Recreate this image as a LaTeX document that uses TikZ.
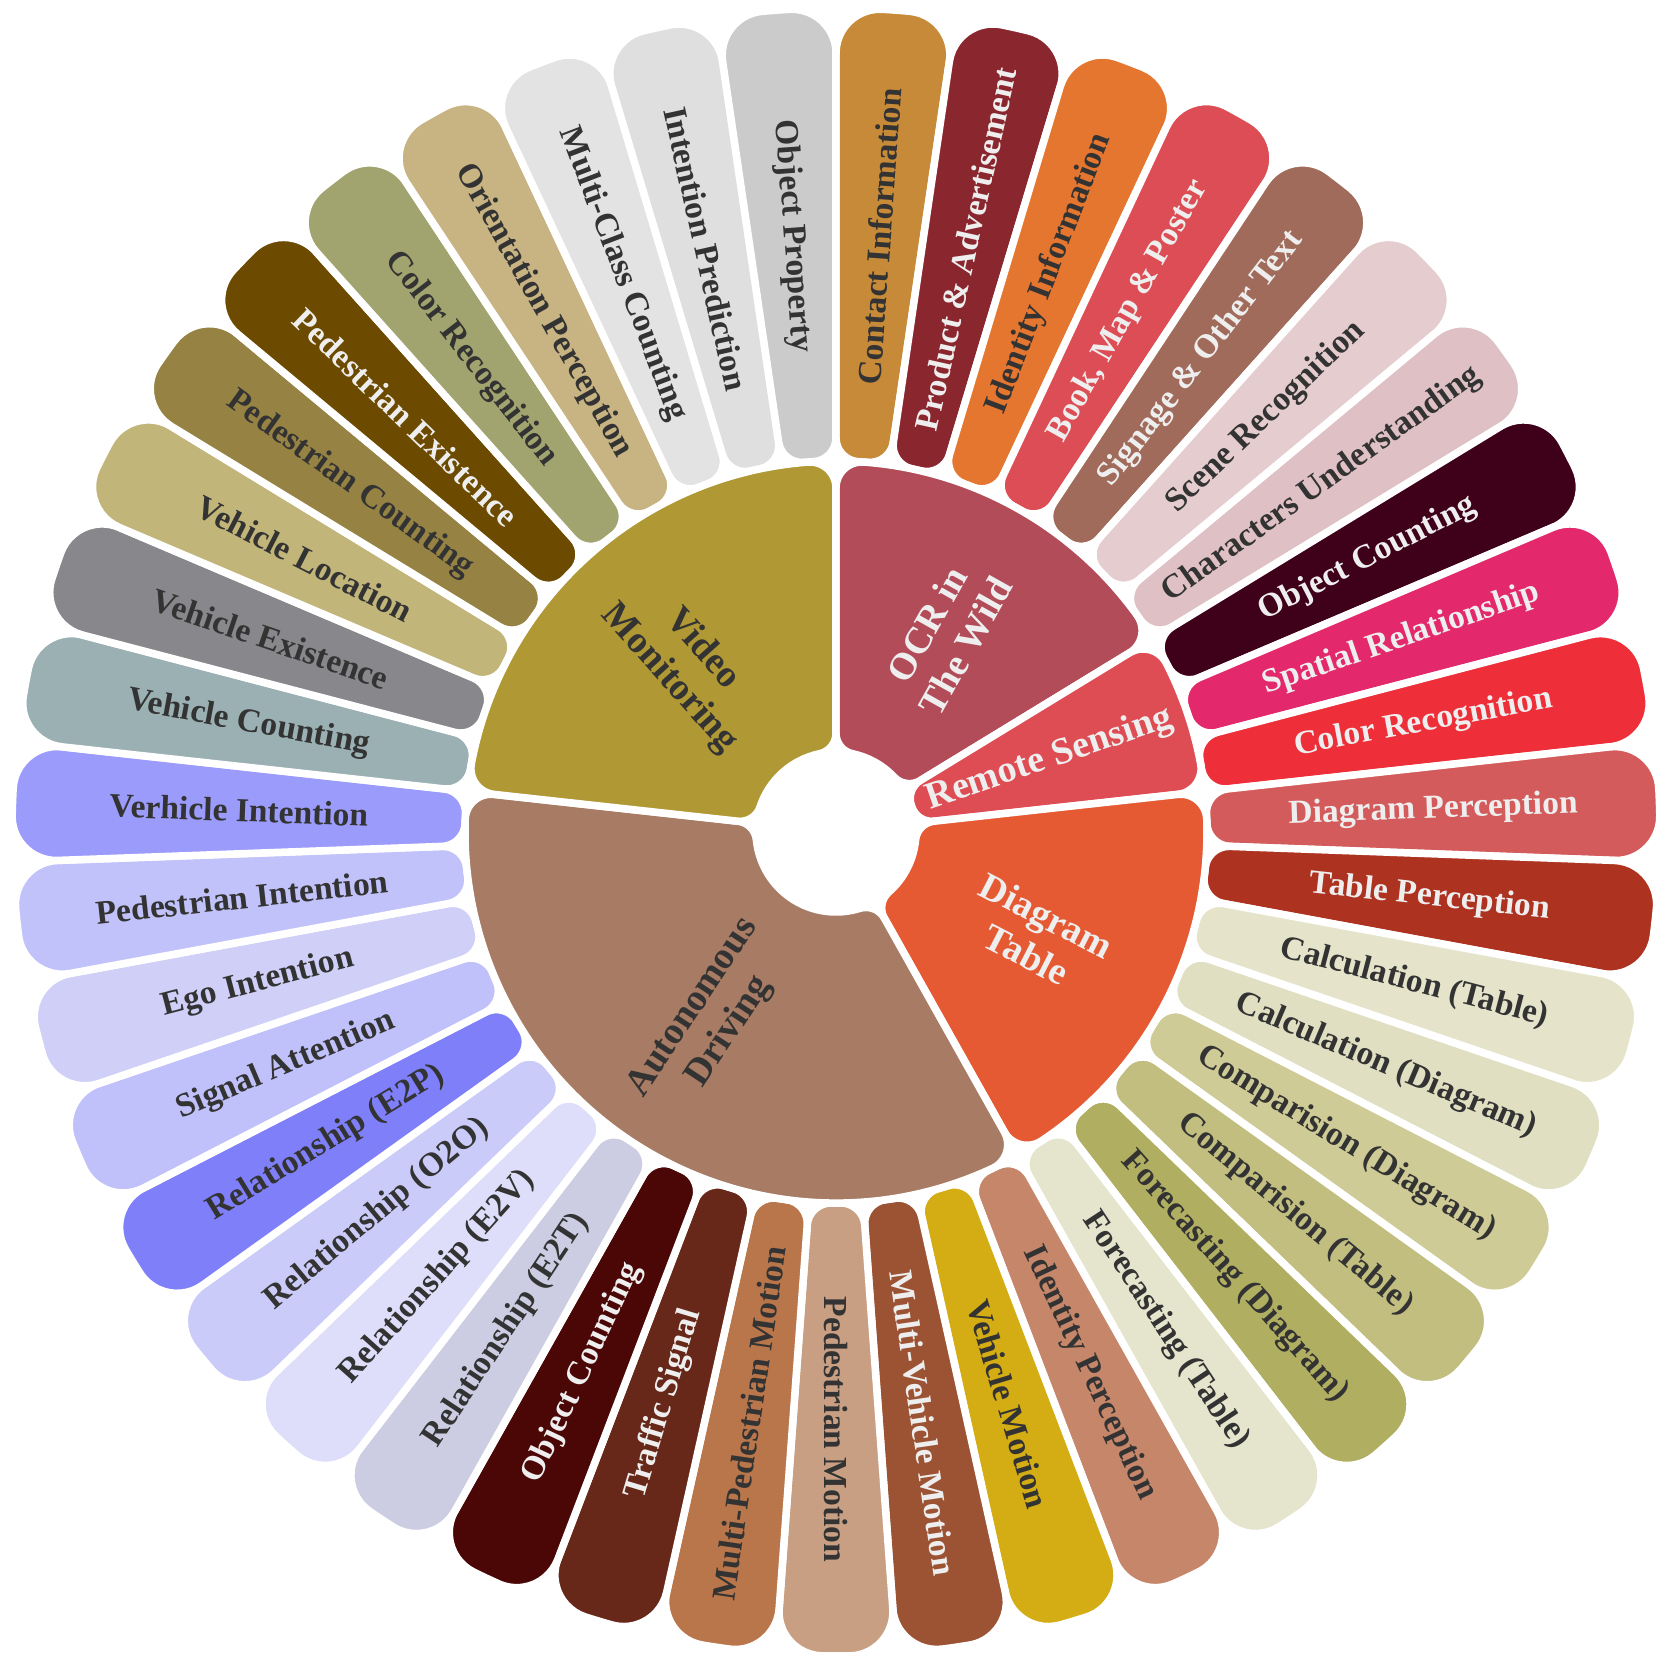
\documentclass[tikz,border=0pt]{standalone}
\usepackage{fontspec}
\setmainfont{Liberation Serif}
\definecolor{inkdark}{HTML}{333333}
\definecolor{inklight}{HTML}{EEEEEE}

% rounded annular sector: #1 start angle, #2 end angle (clockwise),
% #3 inner radius, #4 outer radius, #5 inner corner, #6 outer corner, #7 fill
\newcommand{\petal}[7]{%
  \pgfmathsetmacro\petdo{asin(#6/(#4-#6))}%
  \pgfmathsetmacro\petdi{asin(#5/(#3+#5))}%
  \pgfmathsetmacro\petlo{sqrt((#4-#6)^2-(#6)^2)}%
  \pgfmathsetmacro\petli{sqrt((#3+#5)^2-(#5)^2)}%
  \path[sector, fill=#7]
    (#1:\petli) -- (#1:\petlo)
    arc[start angle=#1+90, end angle=#1-\petdo, radius=#6]
    arc[start angle=#1-\petdo, end angle=#2+\petdo, radius=#4]
    arc[start angle=#2+\petdo, end angle=#2-90, radius=#6]
    -- (#2:\petli)
    arc[start angle=#2-90, end angle=#2+\petdi-180, radius=#5]
    arc[start angle=#2+\petdi, end angle=#1-\petdi, radius=#3]
    arc[start angle=#1-\petdi+180, end angle=#1+90, radius=#5]
    -- cycle;
}

\begin{document}
\begin{tikzpicture}[
  sector/.style={draw=white, line width=0.75mm, line join=round},
  leaflab/.style={font=\bfseries\fontsize{9.55}{11}\selectfont, inner sep=0pt},
  hublab/.style={font=\bfseries\fontsize{10.8}{12.5}\selectfont, align=center, inner sep=0pt},
]
\useasboundingbox (-8.36,-8.47) rectangle (8.24,8.32);
\pgfmathsetmacro\stepang{360/43}
% Outer ring: tasks
\foreach \lab/\hex/\ink [count=\i from 0] in {
  Contact Information/C68A38/inkdark,
  Product \& Advertisement/8A262E/inklight,
  Identity Information/E5762F/inkdark,
  {Book, Map \& Poster}/DD4D55/inklight,
  Signage \& Other Text/A06B5A/inklight,
  Scene Recognition/E5CCCE/inkdark,
  Characters Understanding/DFC1C5/inkdark,
  Object Counting/3F0019/inklight,
  Spatial Relationship/E3296B/inklight,
  Color Recognition/EE2E38/inklight,
  Diagram Perception/D45B5B/inklight,
  Table Perception/AD321F/inklight,
  Calculation (Table)/E5E4CB/inkdark,
  Calculation (Diagram)/E0DFC1/inkdark,
  Comparision (Diagram)/CFCB96/inkdark,
  Comparision (Table)/C1BE80/inkdark,
  Forecasting (Diagram)/B0AE60/inkdark,
  Forecasting (Table)/E5E4CC/inkdark,
  Identity Perception/C6866A/inkdark,
  Vehicle Motion/D4AD14/inkdark,
  Multi-Vehicle Motion/9C5334/inklight,
  Pedestrian Motion/C89F83/inkdark,
  Multi-Pedestrian Motion/B9764B/inkdark,
  Traffic Signal/682819/inklight,
  Object Counting/4A0706/inklight,
  Relationship (E2T)/CCCCE3/inkdark,
  Relationship (E2V)/DEDEFA/inkdark,
  Relationship (O2O)/CBCBF9/inkdark,
  Relationship (E2P)/7F7FFA/inkdark,
  Signal Attention/C0C0FA/inkdark,
  Ego Intention/CFCFF8/inkdark,
  Pedestrian Intention/C2C2FB/inkdark,
  Verhicle Intention/9B9BFC/inkdark,
  Vehicle Counting/9AB0B3/inkdark,
  Vehicle Existence/88888C/inkdark,
  Vehicle Location/C1B57A/inkdark,
  Pedestrian Counting/968343/inkdark,
  Pedestrian Existence/6C4A00/inklight,
  Color Recognition/A2A46F/inkdark,
  Orientation Perception/C8B482/inkdark,
  Multi-Class Counting/E3E3E3/inkdark,
  Intention Prediction/DFDFDF/inkdark,
  Object Property/CBCBCB/inkdark}{
  \pgfmathsetmacro\aone{90-\i*\stepang}
  \pgfmathsetmacro\atwo{90-(\i+1)*\stepang}
  \pgfmathsetmacro\amid{(\aone+\atwo)/2}
  \pgfmathsetmacro\arot{\amid<-90.5 ? \amid+180 : \amid}
  \definecolor{segfill}{HTML}{\hex}
  \petal{\aone}{\atwo}{3.71}{8.24}{0.24}{0.44}{segfill}
  \node[leaflab, text=\ink, rotate=\arot] (leaf\i) at (\amid:5.975) {\lab};
}
% Inner ring: scenarios
\foreach \lab/\hex/\ink/\first/\last in {
  {OCR in\\The Wild}/B24C58/inklight/0/7,
  {Remote Sensing}/DE4C54/inklight/7/10,
  {Diagram\\Table}/E55A33/inklight/10/18,
  {Autonomous\\Driving}/A77B64/inkdark/18/33,
  {Video\\Monitoring}/B09834/inkdark/33/43}{
  \pgfmathsetmacro\aone{90-\first*\stepang}
  \pgfmathsetmacro\atwo{90-\last*\stepang}
  \pgfmathsetmacro\amid{(\aone+\atwo)/2}
  \pgfmathsetmacro\arot{\amid<-90.5 ? \amid+180 : \amid}
  \definecolor{segfill}{HTML}{\hex}
  \petal{\aone}{\atwo}{0.80}{3.71}{0.21}{0.26}{segfill}
  \node[hublab, text=\ink, rotate=\arot] (hub\first) at (\amid:2.255) {\lab};
}
\end{tikzpicture}
\end{document}
